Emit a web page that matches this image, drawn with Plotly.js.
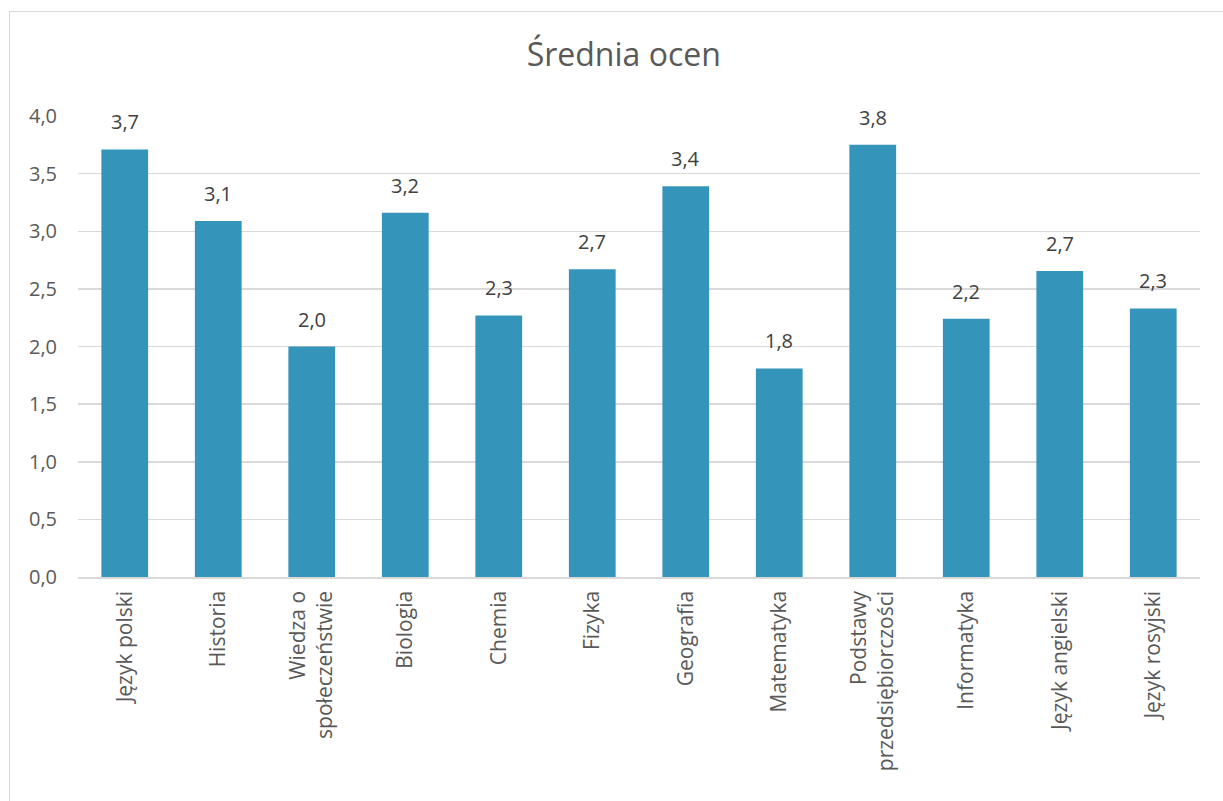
<!DOCTYPE html>
<html><head><meta charset="utf-8">
<script src="https://cdn.plot.ly/plotly-3.0.1.min.js"></script>
<style>
html,body{margin:0;padding:0;background:#fff;overflow:hidden;}
#frame{position:absolute;left:9px;top:11px;width:1300px;height:900px;border:1px solid #d9d9d9;box-sizing:border-box;pointer-events:none;z-index:5;}
#chart{width:1223px;height:801px;}
</style></head>
<body>
<div id="frame"></div>
<div id="chart"></div>
<script>
const categories = ["Język polski","Historia","Wiedza o<br>społeczeństwie","Biologia","Chemia","Fizyka","Geografia","Matematyka","Podstawy<br>przedsiębiorczości","Informatyka","Język angielski","Język rosyjski"];
const averages = [3.71, 3.09, 2.00, 3.16, 2.27, 2.67, 3.39, 1.81, 3.75, 2.24, 2.655, 2.33];
const yTicks = [0,0.5,1,1.5,2,2.5,3,3.5,4];

const font = "'Open Sans', 'Noto Sans', sans-serif";
const fmt = v => v.toFixed(1).replace('.', ',');
const labels = categories.map((c, i) => ({
  x: c, y: averages[i], xref: 'x', yref: 'y',
  text: fmt(averages[i]), showarrow: false,
  yanchor: 'bottom', yshift: 12,
  font: {family: font, size: 20, color: '#404040'}
}));

Plotly.newPlot('chart', [{
  type: 'bar',
  x: categories,
  y: averages,
  marker: {color: '#3494BA'},
  hoverinfo: 'x+y'
}], {
  width: 1223, height: 801,
  margin: {l: 78, r: 23, t: 116, b: 224},
  paper_bgcolor: '#fff', plot_bgcolor: '#fff',
  separators: ',.',
  bargap: 0.5,
  showlegend: false,
  annotations: labels,
  title: {text: 'Średnia ocen', x: 0.51, xanchor: 'center', y: 0.931, yanchor: 'middle',
          font: {family: font, size: 32, color: '#595959'}},
  xaxis: {type: 'category', tickangle: -90, tickfont: {family: font, size: 21, color: '#595959'},
          showgrid: false, showline: true, linecolor: '#d9d9d9', linewidth: 1.5, ticks: '', ticklabelstandoff: 4, fixedrange: true},
  yaxis: {range: [0, 4], tickvals: yTicks, tickformat: '.1f', tickfont: {family: font, size: 20, color: '#595959'},
          gridcolor: '#d9d9d9', gridwidth: 1.5, zeroline: false, showline: false, ticks: '', ticklabelstandoff: 20, fixedrange: true}
}, {displayModeBar: false, staticPlot: true});
</script>
</body></html>
